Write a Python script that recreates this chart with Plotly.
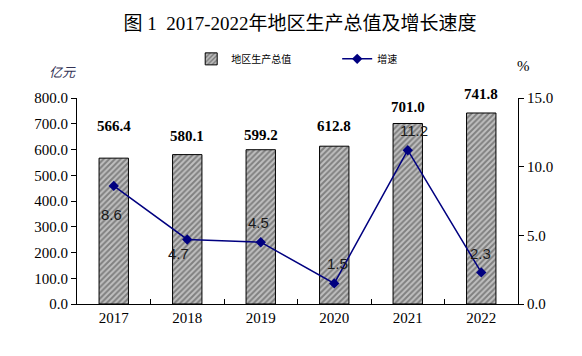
import plotly.graph_objects as go

years = ["2017", "2018", "2019", "2020", "2021", "2022"]
gdp = [566.4, 580.1, 599.2, 612.8, 701.0, 741.8]
growth = [8.6, 4.7, 4.5, 1.5, 11.2, 2.3]
left_ticks = [0, 100, 200, 300, 400, 500, 600, 700, 800]
right_ticks = [0, 5, 10, 15]

# label placement offsets (pixels)
gdp_label_dy = [32, 19, 15, 20, 16, 19]
gr_label_dy = [-29, -14, 20, 20, 20, 19]
gr_label_dx = [-2, -9, -2, 3, 6, -1]

SERIF = "Times New Roman, Liberation Serif, Noto Sans CJK SC"
SANS = "Arial, Liberation Sans, Noto Sans CJK SC"

fig = go.Figure()
fig.add_trace(go.Bar(
    x=years, y=gdp, name="地区生产总值", width=0.4,
    marker=dict(color="#808080", line=dict(color="black", width=1),
                pattern=dict(shape="/", fgcolor="white", size=4, solidity=0.5)),
    yaxis="y",
))
fig.add_trace(go.Scatter(
    x=years, y=growth, name="增速", mode="lines+markers",
    line=dict(color="#000080", width=1.5),
    marker=dict(symbol="diamond", size=8, color="#000080"),
    yaxis="y2",
))

for i, v in enumerate(gdp):
    fig.add_annotation(x=i, y=v, xref="x", yref="y", text=f"{v:.1f}", showarrow=False,
                       yanchor="middle", yshift=gdp_label_dy[i],
                       font=dict(family=SERIF, size=15, color="black", weight="bold"))
for i, v in enumerate(growth):
    fig.add_annotation(x=i, y=v, xref="x", yref="y2", text=f"{v:.1f}", showarrow=False,
                       yanchor="middle", yshift=gr_label_dy[i], xshift=gr_label_dx[i],
                       font=dict(family=SANS, size=15, color="#1a1a1a"))
fig.add_annotation(text="<i>亿元</i>", xref="paper", yref="paper", x=-0.033, y=1.124,
                   xanchor="center", yanchor="middle",
                   showarrow=False, font=dict(family=SANS, size=13, color="#333355"))
fig.add_annotation(text="%", xref="paper", yref="paper", x=1.0136, y=1.153,
                   xanchor="center", yanchor="middle",
                   showarrow=False, font=dict(family=SERIF, size=15, color="black"))

fig.update_layout(
    width=574, height=348,
    margin=dict(l=69, r=64, t=90, b=52),
    paper_bgcolor="white", plot_bgcolor="white",
    title=dict(text="图 1  2017-2022年地区生产总值及增长速度", x=0.5087, xanchor="center",
               y=0.957, yanchor="middle",
               font=dict(family=SERIF, size=19, color="black")),
    showlegend=True,
    legend=dict(orientation="h", x=0.59, xanchor="center", y=1.19, yanchor="middle",
                font=dict(family=SANS, size=10, color="black"),
                entrywidth=101, bgcolor="rgba(0,0,0,0)"),
    bargap=0.6,
    xaxis=dict(type="category", range=[-0.5, 5.5], showline=True, linecolor="black",
               linewidth=1, ticks="inside", tickson="boundaries", ticklen=5,
               tickcolor="black",
               tickfont=dict(family=SERIF, size=15, color="black"), showgrid=False,
               mirror=False, zeroline=False),
    yaxis=dict(range=[0, 800], tickvals=left_ticks,
               ticktext=[f"{t:.1f}" for t in left_ticks],
               showline=True, linecolor="black", linewidth=1, ticks="outside",
               ticklen=5, tickcolor="black", showgrid=False, zeroline=False,
               tickfont=dict(family=SERIF, size=15, color="black")),
    yaxis2=dict(range=[0, 15], tickvals=right_ticks,
                ticktext=[f"{t:.1f}" for t in right_ticks],
                overlaying="y", side="right",
                showline=True, linecolor="black", linewidth=1, ticks="outside",
                ticklen=5, tickcolor="black", showgrid=False, zeroline=False,
                tickfont=dict(family=SERIF, size=15, color="black")),
)

fig.write_html("out.html")
